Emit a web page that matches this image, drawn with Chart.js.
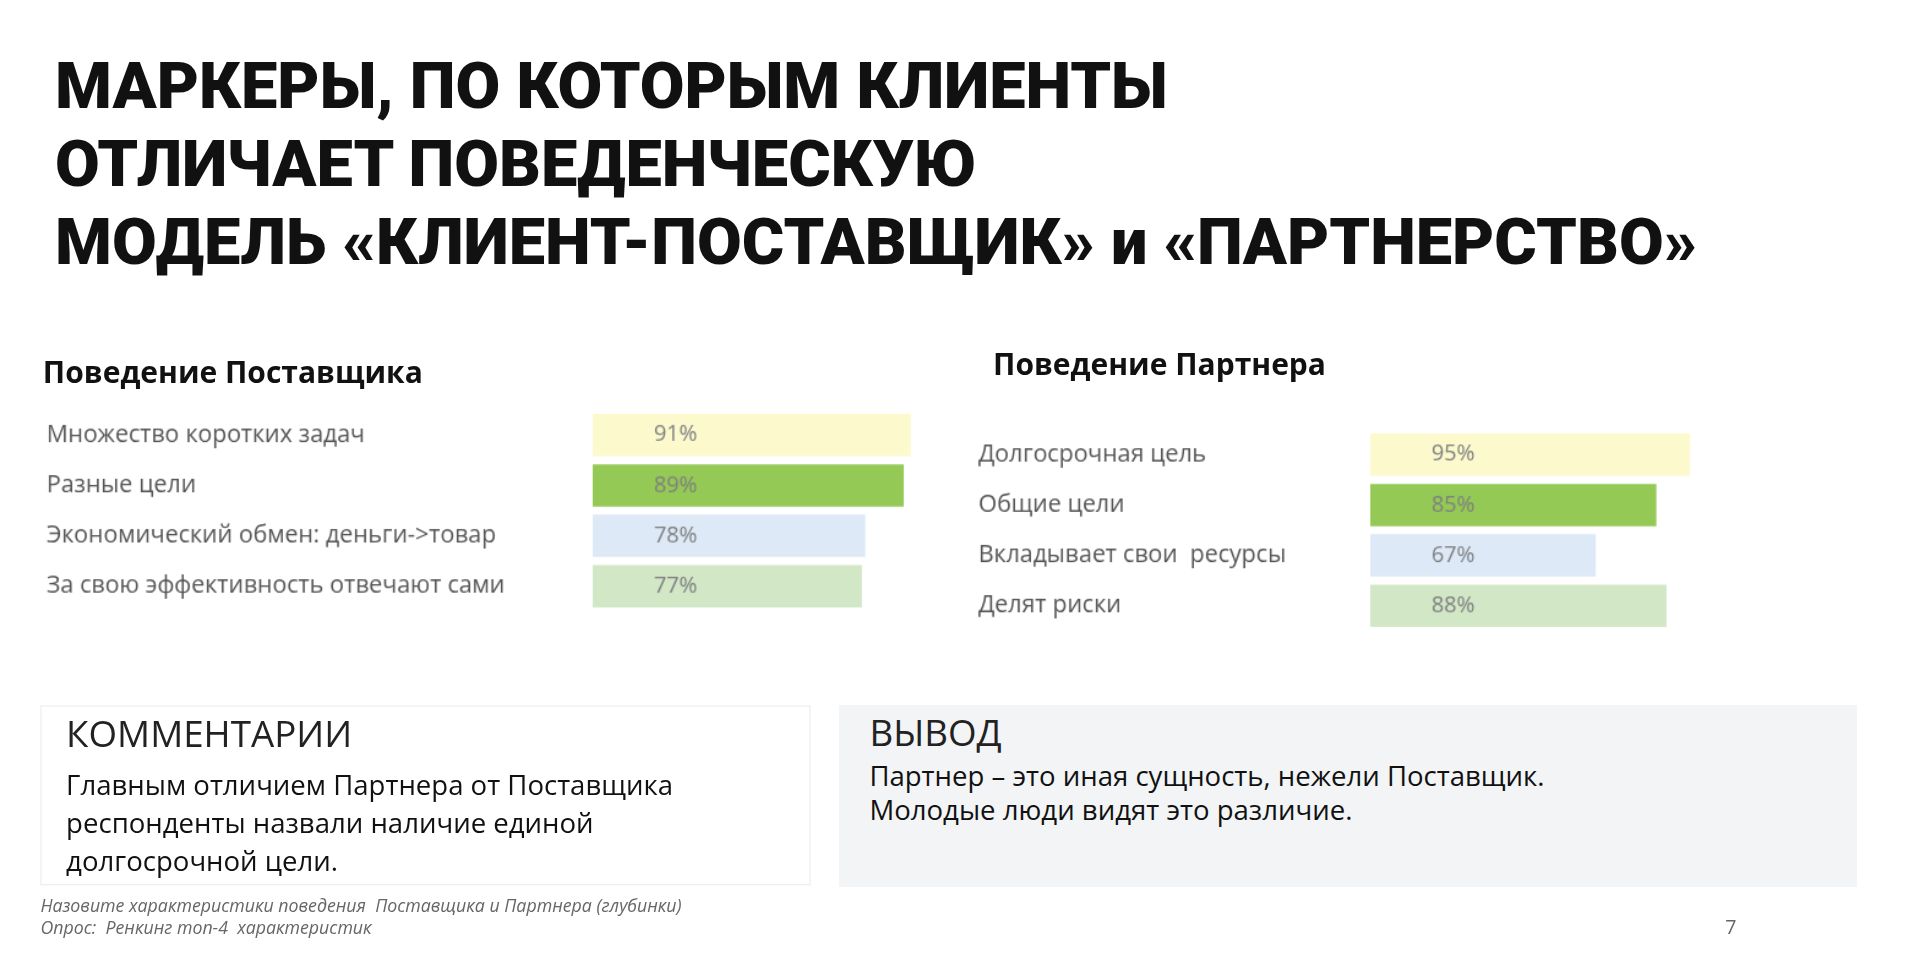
<!DOCTYPE html>
<html>
<head>
<meta charset="utf-8">
<script src="https://cdn.jsdelivr.net/npm/chart.js@4"></script>
<style>
  html, body { margin: 0; padding: 0; background: #fff; overflow: hidden; }
  #stage { position: absolute; left: 0; top: 0; width: 1568px; height: 800px;
           transform: scale(1.2245); transform-origin: 0 0; font-family: "Open Sans", sans-serif; }
  .abs { position: absolute; }
  h1 { position: absolute; left: 45px; top: 38px; margin: 0; font-family: Roboto, sans-serif;
       font-weight: 900; font-size: 53px; line-height: 64px; color: #111; }
  .hdr { font-weight: 700; font-size: 24.5px; color: #111; }
  .box { position: absolute; box-sizing: border-box; }
  .box h2 { margin: 0; font-weight: 400; font-size: 30px; color: #222; line-height: 40px; }
  .box p { margin: 0; font-size: 22.5px; color: #111; }
  .foot { font-style: italic; font-size: 14.5px; color: #666; line-height: 18px; }
</style>
</head>
<body>
<div id="stage">
  <h1>МАРКЕРЫ, ПО КОТОРЫМ КЛИЕНТЫ<br>ОТЛИЧАЕТ ПОВЕДЕНЧЕСКУЮ<br>МОДЕЛЬ «КЛИЕНТ-ПОСТАВЩИК» и «ПАРТНЕРСТВО»</h1>

  <div class="abs hdr" style="left:35px; top:287px;">Поведение Поставщика</div>
  <div class="abs hdr" style="left:811px; top:280px;">Поведение Партнера</div>

  <div class="abs" style="left:38px; top:323px; width:760px; height:188px;"><canvas id="supplier"></canvas></div>
  <div class="abs" style="left:799px; top:339px; width:610px; height:188px;"><canvas id="partner"></canvas></div>

  <div class="box" style="left:33px; top:576px; width:629px; height:147px; border:1px solid #eee; padding:2px 20px;">
    <h2>КОММЕНТАРИИ</h2>
    <p style="line-height:31px; margin-top:6px;">Главным отличием Партнера от Поставщика<br>респонденты назвали наличие единой<br>долгосрочной цели.</p>
  </div>
  <div class="box" style="left:685px; top:576px; width:831px; height:148px; background:#f3f4f6; padding:2px 25px;">
    <h2>ВЫВОД</h2>
    <p style="line-height:28px; margin-top:2px;">Партнер – это иная сущность, нежели Поставщик.<br>Молодые люди видят это различие.</p>
  </div>

  <div class="abs foot" style="left:33px; top:731px;">Назовите характеристики поведения &nbsp;Поставщика и Партнера (глубинки)<br>Опрос: &nbsp;Ренкинг топ-4 &nbsp;характеристик</div>
  <div class="abs" style="left:1409px; top:746px; font-size:16px; color:#666;">7</div>
</div>

<script>
const supplierLabels = ['Множество коротких задач', 'Разные цели', 'Экономический обмен: деньги->товар', 'За свою эффективность отвечают сами'];
const supplierValues = [91, 89, 78, 77];
const partnerLabels = ['Долгосрочная цель', 'Общие цели', 'Вкладывает свои  ресурсы', 'Делят риски'];
const partnerValues = [95, 85, 67, 88];
const barColors = ['#fcf9cd', '#93c954', '#dde9f7', '#d1e7c6'];

const valueLabels = {
  id: 'valueLabels',
  afterDatasetsDraw(chart) {
    const ctx = chart.ctx;
    const meta = chart.getDatasetMeta(0);
    ctx.save();
    ctx.font = '18px "Open Sans", sans-serif';
    ctx.fillStyle = '#808080';
    ctx.textBaseline = 'middle';
    meta.data.forEach((bar, i) => {
      ctx.fillText(chart.data.datasets[0].data[i] + '%', bar.base + 50, bar.y);
    });
    ctx.restore();
  }
};

function makeChart(id, labels, values, axisWidth, max) {
  return new Chart(document.getElementById(id), {
    type: 'bar',
    data: {
      labels: labels,
      datasets: [{ data: values, backgroundColor: barColors, barPercentage: 0.84, categoryPercentage: 1 }]
    },
    options: {
      indexAxis: 'y',
      responsive: true,
      maintainAspectRatio: false,
      animation: false,
      layout: { padding: 0 },
      plugins: { legend: { display: false }, tooltip: { enabled: false } },
      scales: {
        x: { min: 0, max: max, display: false },
        y: {
          grid: { display: false }, border: { display: false },
          afterFit(scale) { scale.width = axisWidth; },
          ticks: { crossAlign: 'far', color: '#555', padding: 0, font: { family: '"Open Sans", sans-serif', size: 19.5 } }
        }
      }
    },
    plugins: [valueLabels]
  });
}

makeChart('supplier', supplierLabels, supplierValues, 446, 110);
makeChart('partner', partnerLabels, partnerValues, 320, 105.5);
</script>
</body>
</html>
